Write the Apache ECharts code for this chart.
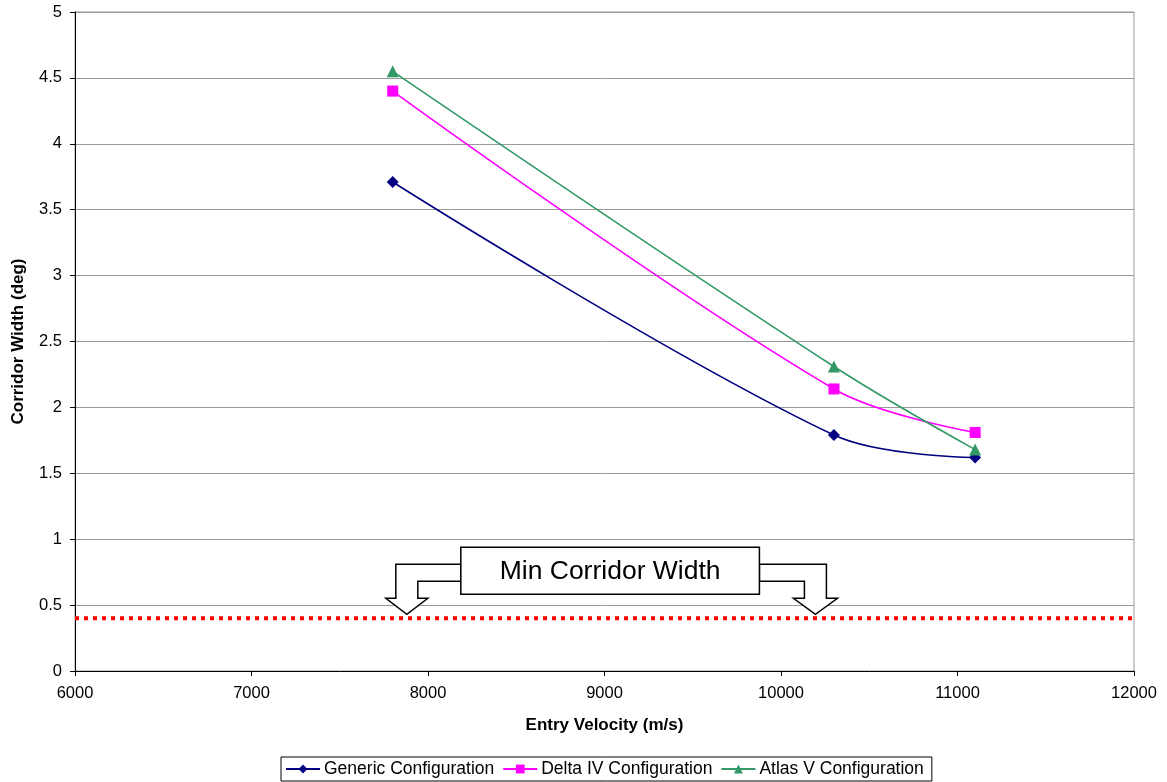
<!DOCTYPE html>
<html>
<head>
<meta charset="utf-8">
<script src="https://cdn.jsdelivr.net/npm/echarts@6/dist/echarts.min.js"></script>
<style>
  html, body { margin: 0; padding: 0; background: #fff; }
  #chart { width: 1167px; height: 782px; }
</style>
</head>
<body>
<div id="chart"></div>
<script>
// Entry velocity (m/s) at which each configuration was evaluated
const velocities = [7800, 10300, 11100];

// Corridor width (deg) per launch configuration
const genericWidth = [3.71, 1.79, 1.62];
const deltaWidth = [4.40, 2.14, 1.81];
const atlasWidth = [4.55, 2.31, 1.68];

// Minimum acceptable corridor width (deg), drawn across the whole velocity range
const minCorridorWidth = 0.4;
const minLineSpan = [6000, 12000];

const seriesNames = ['Generic Configuration', 'Delta IV Configuration', 'Atlas V Configuration'];
const annotationText = 'Min Corridor Width';

const FONT = 'Liberation Sans, Arial, sans-serif';

const pairs = (xs, ys) => xs.map((x, i) => [x, ys[i]]);

const chart = echarts.init(document.getElementById('chart'), null, { renderer: 'canvas' });

function lineSeries(name, values, color, symbol, size) {
  return {
    name: name,
    type: 'line',
    data: pairs(velocities, values),
    smooth: 0.35,
    symbol: symbol,
    symbolSize: size,
    showAllSymbol: true,
    lineStyle: { color: color, width: 1.6 },
    itemStyle: { color: color },
    z: 5
  };
}

const option = {
  animation: false,
  backgroundColor: '#fff',
  textStyle: { fontFamily: FONT },
  grid: {
    left: 75, right: 33, top: 12, bottom: 111,
    show: true, borderColor: '#999', borderWidth: 1, backgroundColor: 'transparent'
  },
  xAxis: {
    type: 'value',
    min: 6000, max: 12000, interval: 1000,
    name: 'Entry Velocity (m/s)',
    nameLocation: 'middle',
    nameGap: 46,
    nameTextStyle: { fontFamily: FONT, fontSize: 17, fontWeight: 'bold', color: '#000' },
    axisLine: { show: true, onZero: false, lineStyle: { color: '#000', width: 1 } },
    axisTick: { show: true, inside: false, length: 5, lineStyle: { color: '#000' } },
    axisLabel: { fontFamily: FONT, fontSize: 16.5, color: '#000', margin: 14, formatter: v => String(v) },
    splitLine: { show: false }
  },
  yAxis: {
    type: 'value',
    min: 0, max: 5, interval: 0.5,
    name: 'Corridor Width (deg)',
    nameLocation: 'middle',
    nameGap: 48,
    nameTextStyle: { fontFamily: FONT, fontSize: 17, fontWeight: 'bold', color: '#000' },
    axisLine: { show: true, lineStyle: { color: '#000', width: 1 } },
    axisTick: { show: true, inside: false, length: 5, lineStyle: { color: '#000' } },
    axisLabel: { fontFamily: FONT, fontSize: 16.5, color: '#000', margin: 13, formatter: v => String(v) },
    splitLine: { show: true, lineStyle: { color: '#999', width: 1 } }
  },
  legend: {
    data: seriesNames,
    bottom: 1,
    left: 281,
    orient: 'horizontal',
    borderColor: '#000',
    borderWidth: 1,
    padding: [3, 8, 3, 4],
    itemGap: 8,
    itemWidth: 34,
    itemHeight: 11,
    textStyle: { fontFamily: FONT, fontSize: 17.5, color: '#000', padding: [0, 0, 0, -1] }
  },
  series: [
    lineSeries(seriesNames[0], genericWidth, '#000080', 'diamond', 12),
    lineSeries(seriesNames[1], deltaWidth, '#ff00ff', 'rect', 11),
    lineSeries(seriesNames[2], atlasWidth, '#339966', 'triangle', 12),
    {
      name: 'Minimum',
      type: 'line',
      data: minLineSpan.map(x => [x, minCorridorWidth]),
      symbol: 'none',
      silent: true,
      lineStyle: { color: '#ff0000', width: 4, type: [4, 5] },
      z: 4
    }
  ]
};

chart.setOption(option);

// Callout box with two bent arrows pointing down at the minimum-width line.
function drawCallout() {
  const tipL = chart.convertToPixel({ gridIndex: 0 }, [7880, 0.43]);
  const tipR = chart.convertToPixel({ gridIndex: 0 }, [10195, 0.43]);
  const ty = tipL[1];
  const boxTop = ty - 67, boxBottom = ty - 20;
  const boxLeft = tipL[0] + 54, boxRight = tipR[0] - 56;
  const armTop = ty - 50, armBottom = ty - 33, headY = ty - 16;

  const leftArrow = [
    [boxLeft, armTop], [tipL[0] - 11, armTop], [tipL[0] - 11, headY],
    [tipL[0] - 21, headY], [tipL[0], ty], [tipL[0] + 21, headY],
    [tipL[0] + 11, headY], [tipL[0] + 11, armBottom], [boxLeft, armBottom]
  ];
  const rightArrow = [
    [boxRight, armTop], [tipR[0] + 11, armTop], [tipR[0] + 11, headY],
    [tipR[0] + 22, headY], [tipR[0], ty], [tipR[0] - 22, headY],
    [tipR[0] - 11, headY], [tipR[0] - 11, armBottom], [boxRight, armBottom]
  ];
  const stroke = { fill: '#fff', stroke: '#000', lineWidth: 1.5 };

  chart.setOption({
    graphic: [
      { type: 'polygon', shape: { points: leftArrow }, style: stroke, z: 20 },
      { type: 'polygon', shape: { points: rightArrow }, style: stroke, z: 20 },
      {
        type: 'rect',
        shape: { x: boxLeft, y: boxTop, width: boxRight - boxLeft, height: boxBottom - boxTop },
        style: stroke, z: 21
      },
      {
        type: 'text',
        x: (boxLeft + boxRight) / 2,
        y: (boxTop + boxBottom) / 2 + 1,
        style: {
          text: annotationText, fontFamily: FONT, fontSize: 26.5, fill: '#000',
          align: 'center', verticalAlign: 'middle'
        },
        z: 22
      }
    ]
  });
}
drawCallout();
</script>
</body>
</html>
